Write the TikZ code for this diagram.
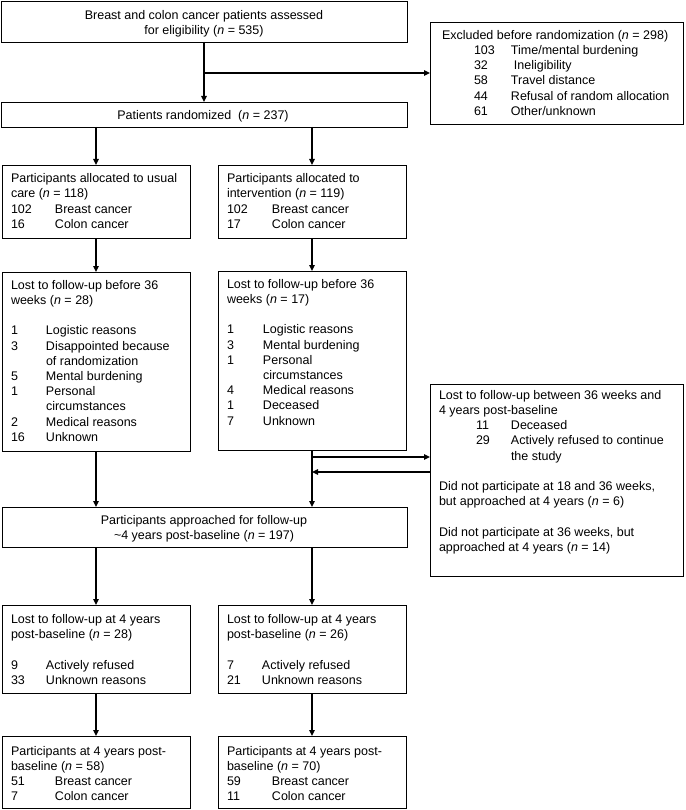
\documentclass[tikz,border=0pt]{standalone}
\usepackage{fontspec}
\setmainfont{Liberation Sans}
\usetikzlibrary{arrows.meta}
\newcommand\fullrow[1]{\multicolumn{2}{@{}l@{}}{#1}}
\newcommand\fullrowiii[1]{\multicolumn{3}{@{}l@{}}{#1}}
\begin{document}
\begin{tikzpicture}[x=1pt,y=-1pt,
  box/.style={draw=black,line width=0.9pt,inner sep=0pt,outer sep=0pt,anchor=north west},
  txt/.style={inner sep=0pt,outer sep=0pt,anchor=north west,font=\fontsize{12.5}{15.2}\selectfont},
  ctxt/.style={inner sep=0pt,outer sep=0pt,anchor=north,font=\fontsize{12.5}{15.2}\selectfont},
  arr/.style={line width=1.3pt,-{Triangle[length=6pt,width=5.5pt]}},
  ln/.style={line width=1.3pt}]
\useasboundingbox (0,0) rectangle (685,810);

% boxes
\node[box,minimum width=406pt,minimum height=41pt] (assess) at (1,1) {};
\node[box,minimum width=253pt,minimum height=102pt] (excl) at (430,22) {};
\node[box,minimum width=406pt,minimum height=25pt] (rand) at (1,102) {};
\node[box,minimum width=188pt,minimum height=73pt] (allocL) at (2,165) {};
\node[box,minimum width=188pt,minimum height=73pt] (allocR) at (218,165) {};
\node[box,minimum width=188pt,minimum height=179pt] (lostL) at (2,272) {};
\node[box,minimum width=188pt,minimum height=179pt] (lostR) at (218,271) {};
\node[box,minimum width=253pt,minimum height=192pt] (between) at (430,384) {};
\node[box,minimum width=405pt,minimum height=40pt] (appr) at (2,507) {};
\node[box,minimum width=188pt,minimum height=88pt] (fourL) at (2,605) {};
\node[box,minimum width=188pt,minimum height=88pt] (fourR) at (218,605) {};
\node[box,minimum width=188pt,minimum height=72pt] (finL) at (2,736) {};
\node[box,minimum width=188pt,minimum height=72pt] (finR) at (218,736) {};

% texts
\node[ctxt] (tassess) at (204,8.7) {\begin{tabular}{@{}c@{}}Breast and colon cancer patients assessed\\for eligibility (\textit{n} = 535)\end{tabular}};
\node[txt] (texcl) at (442,28.7) {\begin{tabular}{@{}p{32pt}@{}p{37pt}@{}l@{}}
\fullrowiii{Excluded before randomization (\textit{n} = 298)}\\
&103&Time/mental burdening\\
&32&\hspace{3pt}Ineligibility\\
&58&Travel distance\\
&44&Refusal of random allocation\\
&61&Other/unknown
\end{tabular}};
\node[ctxt] (trand) at (203,108.7) {\begin{tabular}{@{}c@{}}Patients randomized\ \ (\textit{n} = 237)\end{tabular}};
\node[txt] (tallocL) at (11,172) {\begin{tabular}{@{}p{44pt}@{}l@{}}
\fullrow{Participants allocated to usual}\\
\fullrow{care (\textit{n} = 118)}\\
102&Breast cancer\\
16&Colon cancer
\end{tabular}};
\node[txt] (tallocR) at (227,172) {\begin{tabular}{@{}p{45pt}@{}l@{}}
\fullrow{Participants allocated to}\\
\fullrow{intervention (\textit{n} = 119)}\\
102&Breast cancer\\
17&Colon cancer
\end{tabular}};
\node[txt] (tlostL) at (11,278.7) {\begin{tabular}{@{}p{35pt}@{}l@{}}
\fullrow{Lost to follow-up before 36}\\
\fullrow{weeks (\textit{n} = 28)}\\
\fullrow{}\\
1&Logistic reasons\\
3&Disappointed because\\
&of randomization\\
5&Mental burdening\\
1&Personal\\
&circumstances\\
2&Medical reasons\\
16&Unknown
\end{tabular}};
\node[txt] (tlostR) at (227,277.7) {\begin{tabular}{@{}p{36pt}@{}l@{}}
\fullrow{Lost to follow-up before 36}\\
\fullrow{weeks (\textit{n} = 17)}\\
\fullrow{}\\
1&Logistic reasons\\
3&Mental burdening\\
1&Personal\\
&circumstances\\
4&Medical reasons\\
1&Deceased\\
7&Unknown
\end{tabular}};
\node[txt] (tbetween) at (439,388.7) {\begin{tabular}{@{}p{37pt}@{}p{35pt}@{}l@{}}
\fullrowiii{Lost to follow-up between 36 weeks and}\\
\fullrowiii{4 years post-baseline}\\
&11&Deceased\\
&29&Actively refused to continue\\
&&the study\\
\fullrowiii{}\\
\fullrowiii{Did not participate at 18 and 36 weeks,}\\
\fullrowiii{but approached at 4 years (\textit{n} = 6)}\\
\fullrowiii{}\\
\fullrowiii{Did not participate at 36 weeks, but}\\
\fullrowiii{approached at 4 years (\textit{n} = 14)}
\end{tabular}};
\node[ctxt] (tappr) at (204,513.7) {\begin{tabular}{@{}c@{}}Participants approached for follow-up\\\textasciitilde4 years post-baseline (\textit{n} = 197)\end{tabular}};
\node[txt] (tfourL) at (11,613) {\begin{tabular}{@{}p{35pt}@{}l@{}}
\fullrow{Lost to follow-up at 4 years}\\
\fullrow{post-baseline (\textit{n} = 28)}\\
\fullrow{}\\
9&Actively refused\\
33&Unknown reasons
\end{tabular}};
\node[txt] (tfourR) at (227,613) {\begin{tabular}{@{}p{35pt}@{}l@{}}
\fullrow{Lost to follow-up at 4 years}\\
\fullrow{post-baseline (\textit{n} = 26)}\\
\fullrow{}\\
7&Actively refused\\
21&Unknown reasons
\end{tabular}};
\node[txt] (tfinL) at (11,744.7) {\begin{tabular}{@{}p{44pt}@{}l@{}}
\fullrow{Participants at 4 years post-}\\
\fullrow{baseline (\textit{n} = 58)}\\
51&Breast cancer\\
7&Colon cancer
\end{tabular}};
\node[txt] (tfinR) at (227,744.7) {\begin{tabular}{@{}p{45pt}@{}l@{}}
\fullrow{Participants at 4 years post-}\\
\fullrow{baseline (\textit{n} = 70)}\\
59&Breast cancer\\
11&Colon cancer
\end{tabular}};

% connectors
\coordinate (b1) at (204,73);
\coordinate (b2) at (312,457);
\coordinate (b3) at (312,472);
\draw[arr] (assess.south) -- (rand.north);
\draw[arr] (b1) -- (b1 -| excl.west);
\draw[arr] (rand.south -| allocL.north) -- (allocL.north);
\draw[arr] (rand.south -| allocR.north) -- (allocR.north);
\draw[arr] (allocL.south) -- (lostL.north);
\draw[arr] (allocR.south) -- (lostR.north);
\draw[arr] (lostL.south) -- (appr.north -| lostL.south);
\draw[arr] (lostR.south) -- (appr.north -| lostR.south);
\draw[arr] (b2) -- (b2 -| between.west);
\draw[arr] (b3 -| between.west) -- (b3);
\draw[arr] (appr.south -| fourL.north) -- (fourL.north);
\draw[arr] (appr.south -| fourR.north) -- (fourR.north);
\draw[arr] (fourL.south) -- (finL.north);
\draw[arr] (fourR.south) -- (finR.north);
\end{tikzpicture}
\end{document}
